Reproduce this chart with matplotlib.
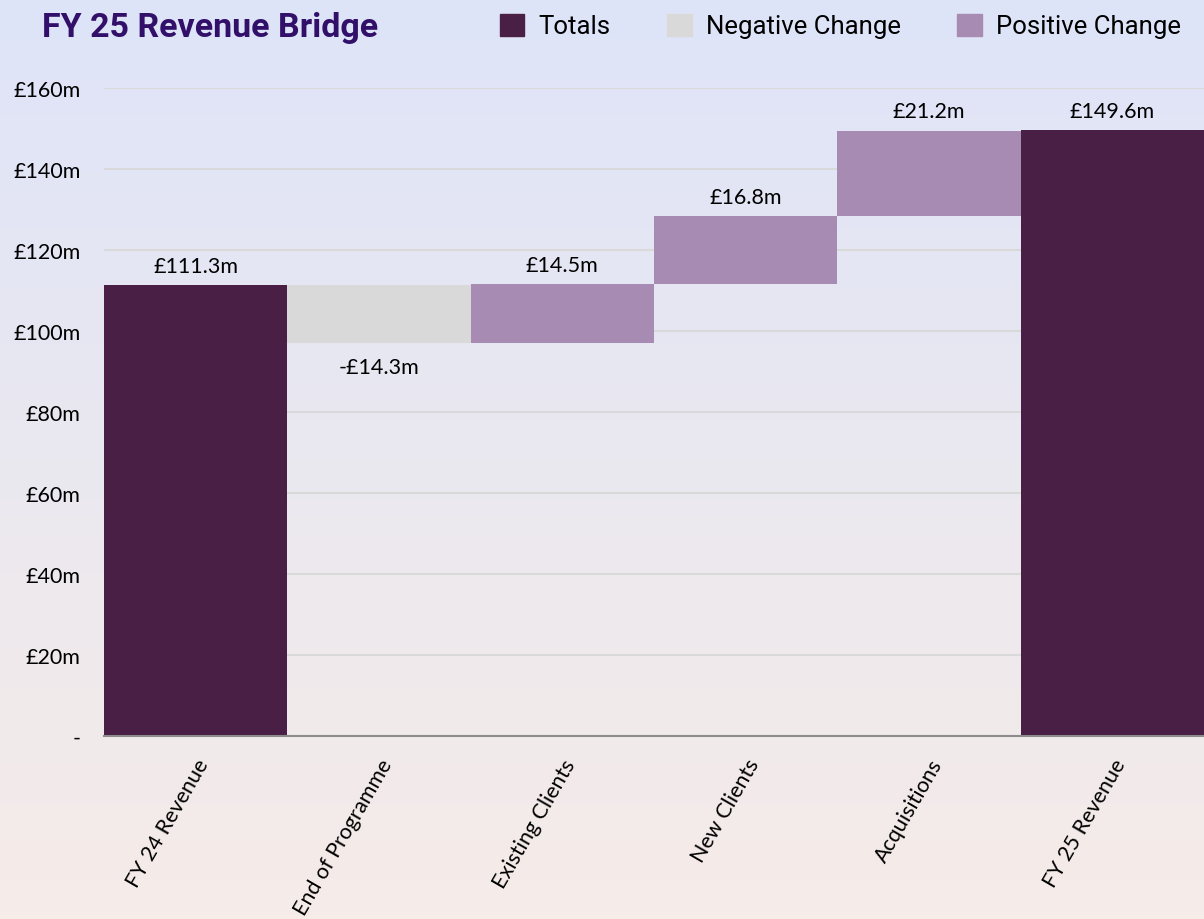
import numpy as np
import matplotlib.pyplot as plt
from matplotlib.patches import Patch

# data
categories = ['FY 24 Revenue', 'End of Programme', 'Existing Clients',
              'New Clients', 'Acquisitions', 'FY 25 Revenue']
values = [111.3, -14.3, 14.5, 16.8, 21.2, 149.6]
kinds = ['total', 'change', 'change', 'change', 'change', 'total']
yticks = [0, 20, 40, 60, 80, 100, 120, 140, 160]

c_total = '#4A1F45'
c_neg = '#D9D9D9'
c_pos = '#A78BB3'

plt.rcParams['font.family'] = ['Lato', 'DejaVu Sans']

fig = plt.figure(figsize=(12.04, 9.2), dpi=100)

# gradient background
bg = fig.add_axes([0, 0, 1, 1], zorder=-10)
top = np.array([222, 228, 248]) / 255
bot = np.array([246, 236, 232]) / 255
t = np.linspace(0, 1, 256)[:, None]
grad = top * (1 - t) + bot * t
bg.imshow(grad[:, None, :], aspect='auto', extent=[0, 1, 0, 1])
bg.axis('off')

ax = fig.add_axes([104 / 1204, 1 - 737 / 920, 1 - 104 / 1204, (737 - 89) / 920])
ax.set_facecolor('none')

# waterfall bars
x = np.arange(len(categories))
running = 0.0
for i, (v, k) in enumerate(zip(values, kinds)):
    if k == 'total':
        bottom, height, col = 0, v, c_total
        running = v
    else:
        if v >= 0:
            bottom, height, col = running, v, c_pos
        else:
            bottom, height, col = running + v, -v, c_neg
        running += v
    ax.bar(x[i], height, bottom=bottom, width=1.0, color=col, zorder=3)
    lab = f'£{v:.1f}m' if v >= 0 else f'-£{-v:.1f}m'
    if v >= 0:
        ax.text(x[i], bottom + height + 2.3, lab, ha='center', va='bottom', fontsize=15.5, zorder=4)
    else:
        ax.text(x[i], bottom - 3.5, lab, ha='center', va='top', fontsize=15.5, zorder=4)

ax.set_xlim(-0.5, len(categories) - 0.5)
ax.set_ylim(0, 160)
ax.set_yticks(yticks)
ax.set_yticklabels(['-' if v == 0 else f'£{v}m' for v in yticks], fontsize=15.5)
ax.set_xticks(x)
ax.set_xticklabels(categories, rotation=60, ha='right', rotation_mode='anchor', fontsize=15.5)
ax.tick_params(axis='y', length=0, pad=17)
ax.tick_params(axis='x', length=0, pad=14)
ax.yaxis.grid(True, color='#D9D9D9', linewidth=1.5, zorder=0)
for s in ['top', 'right', 'left']:
    ax.spines[s].set_visible(False)
ax.spines['bottom'].set_color('#8C8C8C')
ax.spines['bottom'].set_linewidth(1.5)
ax.spines['bottom'].set_zorder(5)

fig.text(42 / 1204, 1 - 28 / 920, 'FY 25 Revenue Bridge', fontsize=24.5, fontweight='bold',
         color='#32106A', va='center', ha='left', family=['Roboto', 'DejaVu Sans'])

handles = [Patch(color=c_total), Patch(color=c_neg), Patch(color=c_pos)]
fig.legend(handles, ['Totals', 'Negative Change', 'Positive Change'], ncol=3,
           loc='center right', bbox_to_anchor=(1.0, 1 - 27 / 920), frameon=False,
           handlelength=0.95, handleheight=0.95, columnspacing=2.2,
           handletextpad=0.55, prop={'family': ['Roboto', 'DejaVu Sans'], 'size': 18.5})

fig.savefig('out.png', dpi=100)
